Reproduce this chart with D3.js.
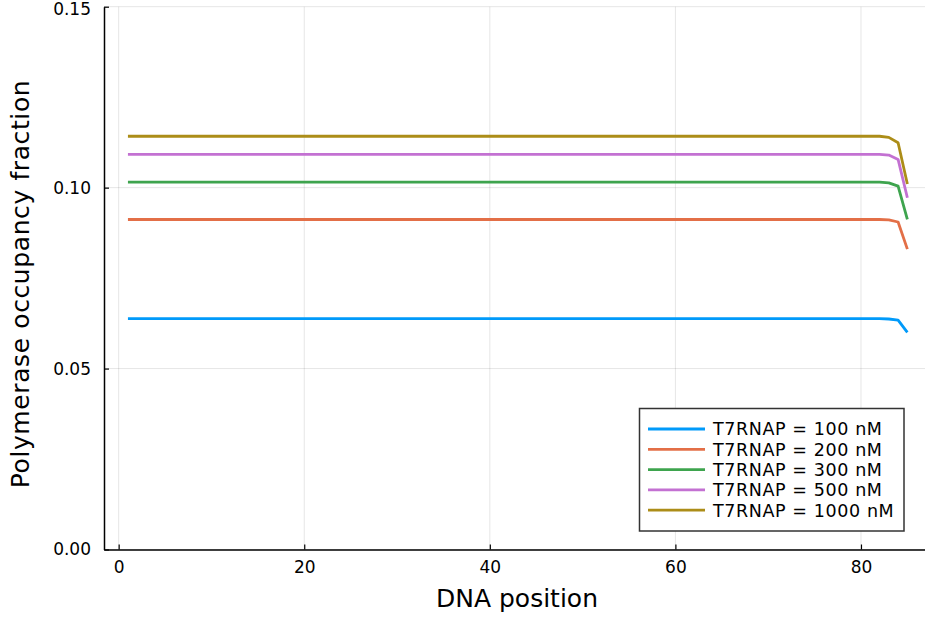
<!DOCTYPE html>
<html>
<head>
<meta charset="utf-8">
<script src="https://cdn.jsdelivr.net/npm/d3@7"></script>
<style>
    body { margin: 0; background: #fff; }
    text { font-family: "DejaVu Sans", sans-serif; fill: #000; }
</style>
</head>
<body>
<div class="chart"></div>
<script>
// positions along the DNA (flat from 1 to 82, drop at the end)
var positions = [1, 82, 83, 84, 85];
var occ100  = [0.0638, 0.0638, 0.0637, 0.0634, 0.0600];
var occ200  = [0.0912, 0.0912, 0.0911, 0.0905, 0.0830];
var occ300  = [0.1015, 0.1015, 0.1013, 0.1004, 0.0912];
var occ500  = [0.1092, 0.1092, 0.1090, 0.1078, 0.0972];
var occ1000 = [0.1142, 0.1142, 0.1139, 0.1124, 0.1010];

var labels = ['T7RNAP = 100 nM', 'T7RNAP = 200 nM', 'T7RNAP = 300 nM', 'T7RNAP = 500 nM', 'T7RNAP = 1000 nM'];
var colors = ['#009afa', '#e36f47', '#3ea44e', '#c371d2', '#ac8d18'];
var xTicks = [0, 20, 40, 60, 80];
var yTicks = [0.00, 0.05, 0.10, 0.15];

window.onload = function() {
    var svgWidth = 925;
    var svgHeight = 618;

    var svg = d3.select('.chart').append('svg')
        .attr('width', svgWidth)
        .attr('height', svgHeight);

    var left = 104, right = 925, top = 6.7, bottom = 549.5;

    var x = d3.scaleLinear().domain([-1.58, 86.9]).range([left, right]);
    var y = d3.scaleLinear().domain([0, 0.15]).range([bottom, top]);

    // grid
    svg.append('g').selectAll('line.gx')
        .data(xTicks).enter().append('line')
        .attr('x1', function(d) { return x(d); })
        .attr('x2', function(d) { return x(d); })
        .attr('y1', top).attr('y2', bottom)
        .attr('stroke', '#000').attr('stroke-opacity', 0.1).attr('stroke-width', 1);

    svg.append('g').selectAll('line.gy')
        .data(yTicks).enter().append('line')
        .attr('x1', left).attr('x2', right)
        .attr('y1', function(d) { return y(d); })
        .attr('y2', function(d) { return y(d); })
        .attr('stroke', '#000').attr('stroke-opacity', 0.1).attr('stroke-width', 1);

    // axes, ticks point inward
    var xAxis = svg.append('g')
        .attr('transform', 'translate(0,' + bottom + ')')
        .call(d3.axisBottom(x).tickValues(xTicks).tickSizeInner(-5).tickSizeOuter(0).tickPadding(11));
    var yAxis = svg.append('g')
        .attr('transform', 'translate(' + left + ',0)')
        .call(d3.axisLeft(y).tickValues(yTicks).tickFormat(d3.format('.2f')).tickSizeInner(-5).tickSizeOuter(0).tickPadding(13));

    [xAxis, yAxis].forEach(function(ax) {
        ax.select('.domain').attr('stroke', '#000').attr('stroke-width', 1.5);
        ax.selectAll('.tick line').attr('stroke', '#000').attr('stroke-width', 1.2);
        ax.selectAll('.tick text').style('font-size', '17px').style('font-family', '"DejaVu Sans", sans-serif').attr('fill', '#000');
    });
    // keep the top label inside the picture
    yAxis.selectAll('.tick text').filter(function(d) { return d === 0.15; }).attr('dy', '0.45em');

    // series
    var series = [occ100, occ200, occ300, occ500, occ1000];
    var line = d3.line()
        .x(function(d, i) { return x(positions[i]); })
        .y(function(d) { return y(d); });

    svg.append('g').selectAll('path.series')
        .data(series).enter().append('path')
        .attr('class', 'series')
        .attr('d', line)
        .attr('fill', 'none')
        .attr('stroke', function(d, i) { return colors[i]; })
        .attr('stroke-width', 2.8)
        .attr('stroke-linejoin', 'round');

    // axis titles
    svg.append('text')
        .attr('x', 517)
        .attr('y', 607)
        .attr('text-anchor', 'middle')
        .style('font-size', '25px')
        .text('DNA position');

    svg.append('text')
        .attr('transform', 'translate(29,284) rotate(-90)')
        .attr('text-anchor', 'middle')
        .style('font-size', '25px')
        .style('letter-spacing', '0.6px')
        .text('Polymerase occupancy fraction');

    // legend
    var legend = svg.append('g');
    legend.append('rect')
        .attr('x', 639.5).attr('y', 408.5)
        .attr('width', 264.5).attr('height', 122.5)
        .attr('fill', '#fff').attr('stroke', '#333').attr('stroke-width', 1.5);

    var rows = legend.selectAll('g.row')
        .data(labels).enter().append('g')
        .attr('transform', function(d, i) { return 'translate(0,' + (429 + i * 20.3) + ')'; });
    rows.append('line')
        .attr('x1', 648).attr('x2', 705)
        .attr('stroke', function(d, i) { return colors[i]; })
        .attr('stroke-width', 2.8);
    rows.append('text')
        .attr('x', 713).attr('dy', '0.36em')
        .style('font-size', '17.5px')
        .style('letter-spacing', '0.6px')
        .text(function(d) { return d; });
};
</script>
</body>
</html>
